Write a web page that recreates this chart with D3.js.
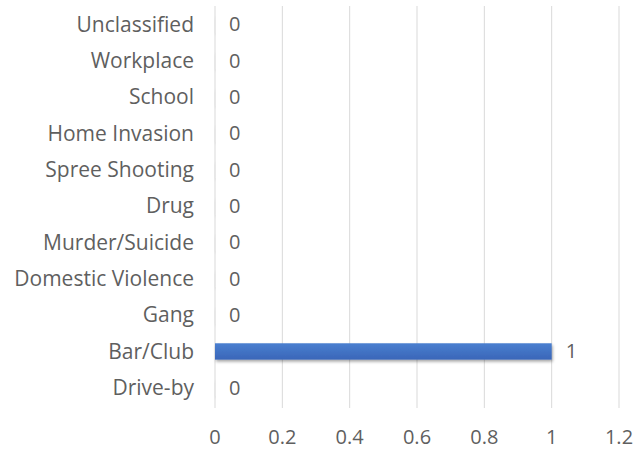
<!DOCTYPE html>
<html>
<head>
<meta charset="utf-8">
<script src="https://cdn.jsdelivr.net/npm/d3@7"></script>
<style>
  body { margin: 0; background: #fff; }
  text { font-family: "Open Sans", sans-serif; fill: #5f5f5f; }
</style>
</head>
<body>
<div id="chart"></div>
<script>
const categories = ['Unclassified', 'Workplace', 'School', 'Home Invasion', 'Spree Shooting', 'Drug',
  'Murder/Suicide', 'Domestic Violence', 'Gang', 'Bar/Club', 'Drive-by'];
const values = [0, 0, 0, 0, 0, 0, 0, 0, 0, 1, 0];
const xTicks = [0, 0.2, 0.4, 0.6, 0.8, 1, 1.2];

const width = 634, height = 452;
const margin = { top: 6, right: 15, bottom: 46, left: 215 };
const fontSize = 21;

const svg = d3.select('#chart').append('svg')
  .attr('width', width)
  .attr('height', height);

/* bar shading */
const defs = svg.append('defs');
const grad = defs.append('linearGradient')
  .attr('id', 'barGrad').attr('x1', 0).attr('y1', 0).attr('x2', 0).attr('y2', 1);
grad.append('stop').attr('offset', '0%').attr('stop-color', '#4a7fd0');
grad.append('stop').attr('offset', '100%').attr('stop-color', '#3a66b8');
const shadow = defs.append('filter').attr('id', 'shadow')
  .attr('x', '-5%').attr('y', '-30%').attr('width', '110%').attr('height', '180%');
shadow.append('feDropShadow')
  .attr('dx', 1).attr('dy', 2).attr('stdDeviation', 1.5)
  .attr('flood-color', '#000').attr('flood-opacity', 0.35);

const x = d3.scaleLinear()
  .domain([0, 1.2])
  .range([margin.left, width - margin.right]);

const y = d3.scaleBand()
  .domain(categories)
  .range([margin.top, height - margin.bottom])
  .paddingInner(0.55)
  .paddingOuter(0.275);

/* gridlines */
svg.append('g').selectAll('line')
  .data(xTicks)
  .join('line')
  .attr('x1', (d) => x(d)).attr('x2', (d) => x(d))
  .attr('y1', margin.top).attr('y2', height - margin.bottom + 2)
  .attr('stroke', '#d9d9d9')
  .attr('stroke-width', 1);

/* x tick labels */
svg.append('g').selectAll('text')
  .data(xTicks)
  .join('text')
  .attr('x', (d) => x(d))
  .attr('y', 444)
  .attr('text-anchor', 'middle')
  .attr('font-size', fontSize - 1)
  .text((d) => d);

/* category labels */
svg.append('g').selectAll('text')
  .data(categories)
  .join('text')
  .attr('x', margin.left - 21)
  .attr('y', (d) => y(d) + y.bandwidth() / 2)
  .attr('dy', '0.35em')
  .attr('text-anchor', 'end')
  .attr('font-size', fontSize)
  .text((d) => d);

/* bars */
svg.append('g').selectAll('rect')
  .data(categories)
  .join('rect')
  .attr('x', x(0))
  .attr('y', (d) => y(d))
  .attr('width', (d, i) => Math.max(x(values[i]) - x(0), 0.5))
  .attr('height', y.bandwidth())
  .attr('fill', (d, i) => (values[i] > 0 ? 'url(#barGrad)' : '#e8e8e8'))
  .attr('filter', 'url(#shadow)');

/* value labels */
svg.append('g').selectAll('text')
  .data(categories)
  .join('text')
  .attr('x', (d, i) => x(values[i]) + 14)
  .attr('y', (d) => y(d) + y.bandwidth() / 2)
  .attr('dy', '0.35em')
  .attr('font-size', fontSize - 1)
  .text((d, i) => values[i]);
</script>
</body>
</html>
